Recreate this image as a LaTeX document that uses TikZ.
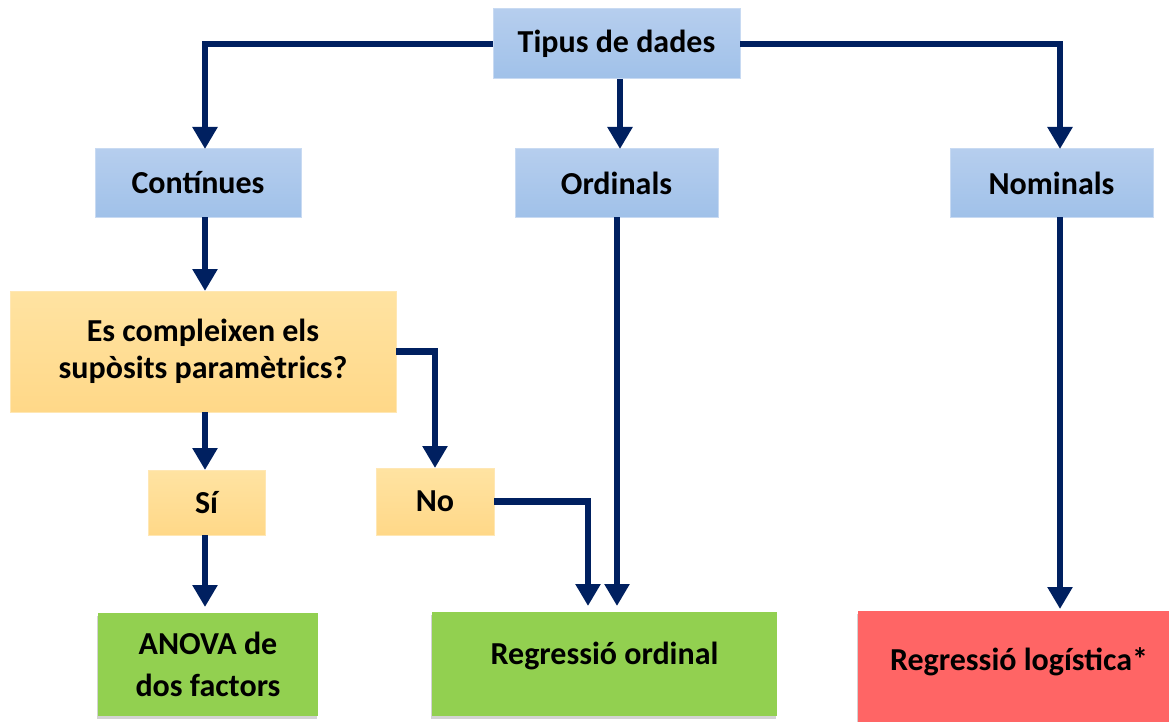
\documentclass[tikz,border=0pt]{standalone}
\usepackage{fontspec}
\setmainfont{Carlito}
\usetikzlibrary{arrows.meta,shadows}
\definecolor{navy}{HTML}{002060}
\definecolor{blueT}{HTML}{B6CEEE}
\definecolor{blueB}{HTML}{A0C1E9}
\definecolor{blueE}{HTML}{C8DAF2}
\definecolor{orT}{HTML}{FFE3A2}
\definecolor{orB}{HTML}{FFD888}
\definecolor{orE}{HTML}{FFE7B4}
\definecolor{grn}{HTML}{92D050}
\definecolor{rd}{HTML}{FF6565}
\begin{document}
\begin{tikzpicture}[x=1pt,y=-1pt,
  box/.style={rectangle, inner sep=0pt, outer sep=0pt, align=center,
    font=\fontsize{32}{37}\selectfont\bfseries},
  bluebox/.style={box, top color=blueT, bottom color=blueB, draw=blueE, line width=1pt},
  orbox/.style={box, top color=orT, bottom color=orB, draw=orE, line width=1pt},
  resbox/.style={box, drop shadow={shadow xshift=-1pt, shadow yshift=-3pt, opacity=0.35}},
  conn/.style={draw=navy, line width=6.5pt, -{Triangle[width=24pt,length=22pt]}}
]
\useasboundingbox (0,0) rectangle (1169,722);

\node[bluebox, minimum width=247pt, minimum height=70pt] (tipus) at (616.5,44) {Tipus de dades};
\node[bluebox, minimum width=206pt, minimum height=68pt] (cont) at (198,183) {Contínues};
\node[bluebox, minimum width=203pt, minimum height=68pt] (ord) at (616.5,183) {Ordinals};
\node[bluebox, minimum width=203pt, minimum height=68pt] (nom) at (1051.5,183) {Nominals};

\node[orbox, minimum width=386pt, minimum height=121pt] (es) at (203,351.5) {Es compleixen els\\supòsits paramètrics?};
\node[orbox, minimum width=117pt, minimum height=65pt] (si) at (206.5,502.5) {Sí};
\node[orbox, minimum width=118pt, minimum height=67pt] (no) at (435,501.5) {No};

\node[resbox, fill=grn, minimum width=220pt, minimum height=103pt,
  font=\fontsize{32}{42}\selectfont\bfseries] (anova) at (208,664.5) {ANOVA de\\dos factors};
\node[resbox, fill=grn, minimum width=345pt, text height=52pt, text depth=52pt] (reg) at (604.5,664) {Regressió ordinal};
\node[resbox, fill=rd, minimum width=322pt, text height=59.5pt, text depth=59.5pt] (log) at (1019,670.5) {Regressió logística*};

% connectors
\draw[conn] (tipus.west) -| ([xshift=7pt]cont.north);
\draw[conn] ([xshift=3.5pt]tipus.south) -- ([xshift=3.5pt]ord.north);
\draw[conn] (tipus.east) -| ([xshift=8.5pt]nom.north);

\draw[conn] ([xshift=7pt]cont.south) -- ([xshift=7pt]cont.south |- es.north);
\draw[conn] ([xshift=-1.5pt]si.north |- es.south) -- ([xshift=-1.5pt]si.north);
\draw[conn] (es.east) -| (no.north);

\draw[conn] ([xshift=-1.5pt]si.south) -- ([xshift=-1.5pt,yshift=6pt]si.south |- anova.north);
\draw[conn] (no.east) -| ([xshift=-16.5pt,yshift=6pt]reg.north);
\draw[conn] ([xshift=0.5pt]ord.south) -- ([xshift=0.5pt,yshift=6pt]ord.south |- reg.north);
\draw[conn] ([xshift=8.5pt]nom.south) -- ([xshift=8.5pt,yshift=2pt]nom.south |- log.north);
\end{tikzpicture}
\end{document}
